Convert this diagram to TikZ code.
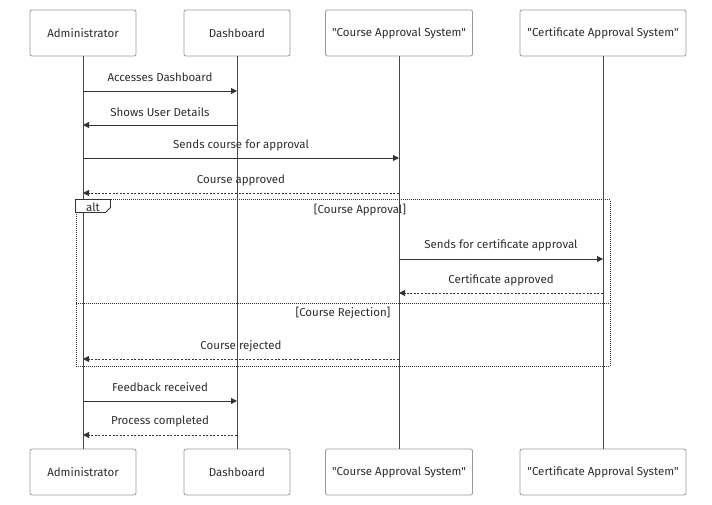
\documentclass[tikz,border=0pt]{standalone}
\usepackage{fontspec}
\setmainfont{Fira Sans}[Ligatures=TeXOff]
\usetikzlibrary{arrows.meta,calc}
\definecolor{txt}{HTML}{2E2E2E}
\definecolor{boxgray}{HTML}{9A9A9A}
\definecolor{lin}{HTML}{333333}
\definecolor{lifec}{HTML}{484848}
\begin{document}
\begin{tikzpicture}[x=1pt,y=-1pt,
  actor/.style={draw=boxgray, fill=white, rounded corners=2pt, minimum height=46pt, inner sep=0pt, font=\fontsize{11.5}{13}\selectfont, text=txt, line width=0.8pt},
  life/.style={draw=lifec, line width=0.9pt},
  msg/.style={draw=lin, line width=0.9pt, -{Triangle[length=6pt,width=6pt]}},
  reply/.style={msg, dash pattern=on 2pt off 1.6pt},
  lbl/.style={font=\fontsize{11.5}{13}\selectfont, text=txt, inner sep=1pt},
  framedot/.style={draw=lin, line width=1pt, dash pattern=on 1pt off 1pt}
]
\useasboundingbox (0,0) rectangle (712,505);
% actors top
\node[actor, minimum width=106pt] (adminT) at (83,33) {Administrator};
\node[actor, minimum width=106pt] (dashT) at (237,33) {Dashboard};
\node[actor, minimum width=147pt] (courseT) at (399,33) {"Course Approval System"};
\node[actor, minimum width=166pt] (certT) at (603,33) {"Certificate Approval System"};
% actors bottom
\node[actor, minimum width=106pt] (adminB) at (83,472) {Administrator};
\node[actor, minimum width=106pt] (dashB) at (237,472) {Dashboard};
\node[actor, minimum width=147pt] (courseB) at (399,472) {"Course Approval System"};
\node[actor, minimum width=166pt] (certB) at (603,472) {"Certificate Approval System"};
% lifelines
\draw[life] (adminT.south) -- (adminB.north);
\draw[life] (dashT.south) -- (dashB.north);
\draw[life] (courseT.south) -- (courseB.north);
\draw[life] (certT.south) -- (certB.north);
% message anchor coordinates
\foreach \n/\y in {1/91,2/125,3/158,4/193,5/259,6/293,7/359,8/401,9/435}{
  \coordinate (a\n) at (adminT.south |- 0,\y);
  \coordinate (d\n) at (dashT.south |- 0,\y);
  \coordinate (c\n) at (courseT.south |- 0,\y);
  \coordinate (e\n) at (certT.south |- 0,\y);
}
% messages
\draw[msg] (a1) -- (d1);
\node[lbl] (l1) at (160,77) {Accesses Dashboard};
\draw[msg] (d2) -- (a2);
\node[lbl] (l2) at (160,112) {Shows User Details};
\draw[msg] (a3) -- (c3);
\node[lbl] (l3) at (241,145) {Sends course for approval};
\draw[reply] (c4) -- (a4);
\node[lbl] (l4) at (241,180) {Course approved};
% alt frame
\node[framedot, minimum width=534pt, minimum height=166pt, inner sep=0pt] (alt) at (343,283) {};
\draw[draw=lin, line width=0.8pt, fill=white] (alt.north west) -- ++(35,0) -- ++(0,8) -- ++(-5,5) -- ++(-30,0) -- cycle;
\node[lbl] (altlbl) at (93,207) {alt};
\node[lbl] (g1) at (360,210) {[Course Approval]};
\draw[msg] (c5) -- (e5);
\node[lbl] (l5) at (501,245) {Sends for certificate approval};
\draw[reply] (e6) -- (c6);
\node[lbl] (l6) at (501,280) {Certificate approved};
\coordinate (sepL) at (alt.west |- 0,303);
\coordinate (sepR) at (alt.east |- 0,303);
\draw[framedot] (sepL) -- (sepR);
\node[lbl] (g2) at (343,313) {[Course Rejection]};
\draw[reply] (c7) -- (a7);
\node[lbl] (l7) at (241,346) {Course rejected};
% after frame
\draw[msg] (a8) -- (d8);
\node[lbl] (l8) at (160,387) {Feedback received};
\draw[reply] (d9) -- (a9);
\node[lbl] (l9) at (160,421) {Process completed};
\end{tikzpicture}
\end{document}
